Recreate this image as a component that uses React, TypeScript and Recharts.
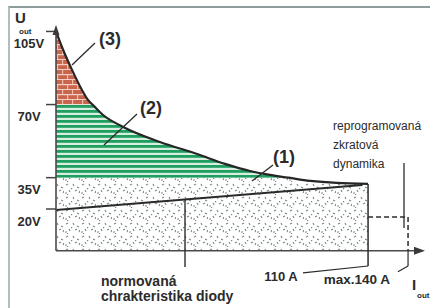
import React from 'react';
import { ComposedChart, Area, Line, XAxis, YAxis, ReferenceLine, ReferenceDot } from 'recharts';

// Output characteristic U_out [V] vs I_out [A]
const curveAmps = [0, 0.06, 0.29, 0.76, 1.16, 1.5, 2.5, 5.1, 12.2, 22.5, 32.3, 42.5, 51.7, 61, 67.3, 89, 110];
const curveVolts = [105, 96, 86.6, 77, 72.2, 70, 65, 59.3, 52.1, 46.3, 41.6, 38.2, 36.3, 35, 34.1, 32.5, 32];
// normalised diode characteristic
const diodeAmps = [0, 106];
const diodeVolts = [19.5, 31.5];
// axis ticks and limits
const voltTicks = [105, 70, 35, 20];
const zoneBounds = [0, 35, 70];
const ratedAmps = 110;
const maxAmps = 140;
const dynamicVolts = 16.2;
const zoneLabels = ['(1)', '(2)', '(3)'];
const texts = {
  rated: '110 A',
  max: 'max.140 A',
  diode1: 'normovaná',
  diode2: 'chrakteristika diody',
  dyn1: 'reprogramovaná',
  dyn2: 'zkratová',
  dyn3: 'dynamika',
};

const FONT = '"Liberation Sans", Arial, sans-serif';
const INK = '#2b2b2b';

const curveData = curveAmps.map((a, i) => {
  const v = curveVolts[i];
  return {
    amps: a,
    volts: v,
    zone1: [zoneBounds[0], Math.min(v, zoneBounds[1])],
    zone2: [zoneBounds[1], Math.min(Math.max(v, zoneBounds[1]), zoneBounds[2])],
    zone3: [zoneBounds[2], Math.max(v, zoneBounds[2])],
  };
});
const diodeData = diodeAmps.map((a, i) => ({ amps: a, volts: diodeVolts[i] }));

const textShape = (text: string, anchor: 'start' | 'middle', size: number, weight: any) => (p: any) => (
  <text x={p.cx} y={p.cy} textAnchor={anchor} dominantBaseline="central" fontSize={size}
    fontWeight={weight} fill={INK} fontFamily={FONT}>{text}</text>
);

const arrowRight = (p: any) => (
  <polygon points={`${p.cx},${p.cy} ${p.cx - 11},${p.cy - 4} ${p.cx - 11},${p.cy + 4}`} fill="#3a3a3a" />
);
const arrowUp = (p: any) => (
  <polygon points={`${p.cx},${p.cy} ${p.cx - 3.5},${p.cy + 10} ${p.cx + 3.5},${p.cy + 10}`} fill="#3a3a3a" />
);
const iOut = (p: any) => (
  <g fontFamily={FONT} fill={INK} fontWeight="bold">
    <text x={p.cx} y={p.cy} fontSize={15}>I</text>
    <text x={p.cx + 5} y={p.cy + 8} fontSize={8}>out</text>
  </g>
);

const VoltTick = (props: any) => {
  const { y, payload } = props;
  return (
    <text x={29} y={y + 12} textAnchor="middle" dominantBaseline="central" fontSize={13}
      fontWeight="bold" fill={INK} fontFamily={FONT}>{`${payload.value}V`}</text>
  );
};

const UOutLabel = (props: any) => {
  const vb = props.viewBox || { x: 0, y: 21 };
  return (
    <g fontFamily={FONT} fill={INK} fontWeight="bold">
      <text x={vb.x + 15} y={vb.y + 2} fontSize={15}>U</text>
      <text x={vb.x + 19} y={vb.y + 13} fontSize={8}>out</text>
    </g>
  );
};

const seg = (a1: number, v1: number, a2: number, v2: number) => [{ x: a1, y: v1 }, { x: a2, y: v2 }];

export default function App() {
  return (
    <div style={{ position: 'absolute', left: 0, top: 0, width: 430, height: 308, background: '#fff', overflow: 'hidden' }}>
      <div style={{ position: 'absolute', left: 8, top: 6, width: 422, height: 302, borderTop: '2px solid #8e9c9c', borderLeft: '2px solid #b2bebe', boxSizing: 'border-box' }} />
      <ComposedChart width={430} height={308} data={curveData} margin={{ top: 21, right: 0, bottom: 5, left: 0 }}
        style={{ position: 'absolute', left: 0, top: 0 }}>
        <defs>
          <pattern id="brick" width="10" height="10" patternUnits="userSpaceOnUse">
            <rect width="10" height="10" fill="#c9654d" />
            <rect x="0" y="4" width="10" height="1.2" fill="#f2cfc2" />
            <rect x="0" y="9" width="10" height="1.2" fill="#f2cfc2" />
            <rect x="2" y="0" width="1.2" height="4" fill="#eebcaa" />
            <rect x="7" y="5" width="1.2" height="4" fill="#eebcaa" />
          </pattern>
          <pattern id="stripes" width="6" height="5" patternUnits="userSpaceOnUse">
            <rect width="6" height="5" fill="#d6efdf" />
            <rect x="0" y="0" width="6" height="2.8" fill="#1f9e5f" />
          </pattern>
          <pattern id="dots" width="16" height="13" patternUnits="userSpaceOnUse">
            <rect width="16" height="13" fill="#ffffff" />
            <path d="M2 3 l2 -1 M9 2 l1 2 M13 5 l2 1 M5 8 l1 2 M11 9 l2 -1 M15 11 l1 -2 M1 11 l2 0" stroke="#7a8888" strokeWidth="1.1" />
            <rect x="7" y="6" width="1.2" height="1.2" fill="#3f9a9a" />
            <rect x="3" y="12" width="1.2" height="1.2" fill="#7a8888" />
          </pattern>
        </defs>
        <XAxis dataKey="amps" type="number" scale="sqrt" domain={[0, 158]} allowDataOverflow hide />
        <YAxis type="number" domain={[-25, 110]} allowDataOverflow ticks={voltTicks} interval={0} width={56}
          axisLine={false} tickSize={10} tickLine={{ stroke: '#444', strokeWidth: 1.5 }}
          tick={<VoltTick />} label={<UOutLabel />} />
        <Area dataKey="zone1" type="monotone" stroke="none" fill="url(#dots)" fillOpacity={1} isAnimationActive={false} activeDot={false} />
        <Area dataKey="zone2" type="monotone" stroke="none" fill="url(#stripes)" fillOpacity={1} isAnimationActive={false} activeDot={false} />
        <Area dataKey="zone3" type="monotone" stroke="none" fill="url(#brick)" fillOpacity={1} isAnimationActive={false} activeDot={false} />
        <Line data={diodeData} dataKey="volts" type="linear" stroke="#2a2a2a" strokeWidth={2} dot={false} isAnimationActive={false} activeDot={false} />
        <Line dataKey="volts" type="monotone" stroke="#262626" strokeWidth={2.2} dot={false} isAnimationActive={false} activeDot={false} />

        {/* axes */}
        <ReferenceLine segment={seg(0, 0, 152, 0)} stroke="#4a4a4a" strokeWidth={1.6} ifOverflow="visible" />
        <ReferenceLine segment={seg(0, 0, 0, 107)} stroke="#4a4a4a" strokeWidth={1.6} ifOverflow="visible" />
        <ReferenceDot x={153.8} y={0} r={0} shape={arrowRight} ifOverflow="visible" />
        <ReferenceDot x={0} y={108.1} r={0} shape={arrowUp} ifOverflow="visible" />

        {/* rated / max current markers */}
        <ReferenceLine segment={seg(ratedAmps, 32, ratedAmps, -7.3)} stroke={INK} strokeWidth={1.5} ifOverflow="visible" />
        <ReferenceLine segment={seg(ratedAmps, -7.3, 68.9, -10.6)} stroke={INK} strokeWidth={1.2} ifOverflow="visible" />
        <ReferenceLine segment={seg(ratedAmps, dynamicVolts, maxAmps, dynamicVolts)} stroke={INK} strokeWidth={1.5} strokeDasharray="5 3" ifOverflow="visible" />
        <ReferenceLine segment={seg(maxAmps, dynamicVolts, maxAmps, 0)} stroke={INK} strokeWidth={1.5} strokeDasharray="5 3" ifOverflow="visible" />
        <ReferenceLine segment={seg(maxAmps, 0, maxAmps, -7.3)} stroke={INK} strokeWidth={1.2} ifOverflow="visible" />
        <ReferenceLine segment={seg(maxAmps, -7.3, 132.1, -10)} stroke={INK} strokeWidth={1.2} ifOverflow="visible" />
        <ReferenceDot x={57.2} y={-12.4} r={0} shape={textShape(texts.rated, 'middle', 13, 'bold')} ifOverflow="visible" />
        <ReferenceDot x={102.3} y={-13.8} r={0} shape={textShape(texts.max, 'middle', 13.5, 'bold')} ifOverflow="visible" />
        <ReferenceDot x={143.2} y={-18.7} r={0} shape={iOut} ifOverflow="visible" />

        {/* diode characteristic note */}
        <ReferenceLine segment={seg(18.8, 24.6, 18.8, -7.8)} stroke={INK} strokeWidth={1.4} ifOverflow="visible" />
        <ReferenceDot x={2.29} y={-14.4} r={0} shape={textShape(texts.diode1, 'start', 14, 'bold')} ifOverflow="visible" />
        <ReferenceDot x={2.29} y={-21.6} r={0} shape={textShape(texts.diode2, 'start', 14, 'bold')} ifOverflow="visible" />

        {/* dynamic limit note */}
        <ReferenceLine segment={seg(136.8, 42, 136.8, 10.9)} stroke={INK} strokeWidth={1.3} ifOverflow="visible" />
        <ReferenceDot x={86.7} y={59.7} r={0} shape={textShape(texts.dyn1, 'start', 12, 'normal')} ifOverflow="visible" />
        <ReferenceDot x={86.7} y={50.6} r={0} shape={textShape(texts.dyn2, 'start', 12, 'normal')} ifOverflow="visible" />
        <ReferenceDot x={86.7} y={41.5} r={0} shape={textShape(texts.dyn3, 'start', 12, 'normal')} ifOverflow="visible" />

        {/* zone labels */}
        <ReferenceLine segment={seg(1.72, 99.5, 0.289, 88.9)} stroke={INK} strokeWidth={1.3} ifOverflow="visible" />
        <ReferenceLine segment={seg(7.41, 65.5, 2.6, 50.6)} stroke={INK} strokeWidth={1.3} ifOverflow="visible" />
        <ReferenceLine segment={seg(53.2, 41.1, 43.4, 33.4)} stroke={INK} strokeWidth={1.3} ifOverflow="visible" />
        <ReferenceDot x={3.29} y={101.4} r={0} shape={textShape(zoneLabels[2], 'middle', 18, 'bold')} ifOverflow="visible" />
        <ReferenceDot x={10.19} y={68.4} r={0} shape={textShape(zoneLabels[1], 'middle', 18, 'bold')} ifOverflow="visible" />
        <ReferenceDot x={58.7} y={44.9} r={0} shape={textShape(zoneLabels[0], 'middle', 18, 'bold')} ifOverflow="visible" />
      </ComposedChart>
    </div>
  );
}
